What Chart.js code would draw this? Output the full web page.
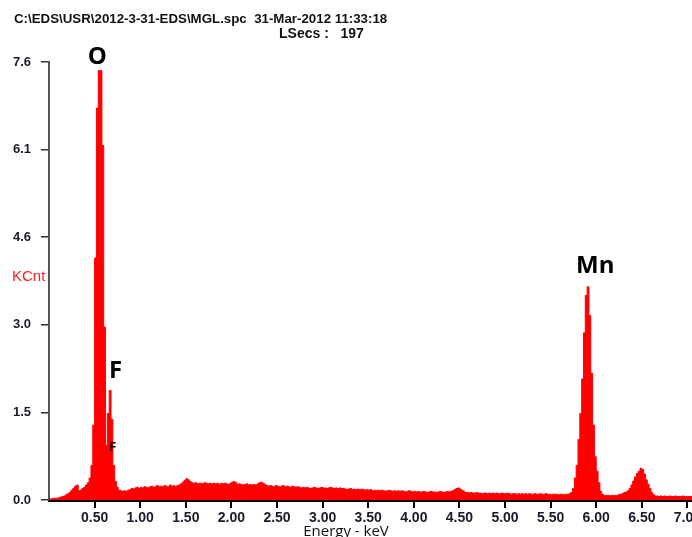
<!DOCTYPE html>
<html>
<head>
    <title>EDS Spectrum</title>
    <script src="https://cdn.jsdelivr.net/npm/chart.js"></script>
    <style>
        body { margin: 0; background: #fff; }
        #wrap { width: 692px; height: 537px; }
    </style>
</head>
<body>
    <div id="wrap"><canvas id="spectrum" width="692" height="537"></canvas></div>

    <script>
        // channel width in keV
        const channelWidth = 0.02;

        // KCnt per channel, starting at 0 keV
        const counts = [
            0.02, 0.03, 0.03, 0.03, 0.04, 0.05, 0.06, 0.07, 0.09, 0.11,
            0.13, 0.17, 0.2, 0.24, 0.26, 0.16, 0.17, 0.2, 0.22, 0.26,
            0.3, 0.38, 0.6, 1.3, 4.2, 6.8, 7.45, 7.45, 6.15, 3.0,
            0.95, 1.5, 1.9, 1.4, 0.6, 0.32, 0.22, 0.17, 0.16, 0.15,
            0.16, 0.15, 0.17, 0.18, 0.2, 0.19, 0.21, 0.22, 0.2, 0.22,
            0.21, 0.23, 0.22, 0.21, 0.23, 0.24, 0.22, 0.23, 0.25, 0.23,
            0.24, 0.23, 0.25, 0.24, 0.23, 0.26, 0.24, 0.25, 0.23, 0.25,
            0.26, 0.28, 0.31, 0.34, 0.37, 0.35, 0.32, 0.3, 0.29, 0.3,
            0.28, 0.29, 0.29, 0.28, 0.3, 0.29, 0.28, 0.29, 0.28, 0.29,
            0.28, 0.29, 0.27, 0.29, 0.28, 0.29, 0.28, 0.27, 0.29, 0.31,
            0.32, 0.3, 0.27, 0.28, 0.27, 0.26, 0.27, 0.28, 0.26, 0.27,
            0.26, 0.27, 0.26, 0.28, 0.3, 0.31, 0.29, 0.27, 0.25, 0.24,
            0.25, 0.24, 0.23, 0.25, 0.24, 0.23, 0.24, 0.25, 0.23, 0.24,
            0.23, 0.22, 0.24, 0.23, 0.22, 0.23, 0.22, 0.21, 0.22, 0.21,
            0.22, 0.21, 0.2, 0.21, 0.22, 0.21, 0.2, 0.21, 0.22, 0.21,
            0.21, 0.2, 0.21, 0.22, 0.21, 0.2, 0.21, 0.2, 0.21, 0.2,
            0.2, 0.19, 0.18, 0.19, 0.2, 0.18, 0.19, 0.18, 0.19, 0.18,
            0.19, 0.18, 0.17, 0.18, 0.17, 0.18, 0.16, 0.17, 0.16, 0.17,
            0.16, 0.17, 0.16, 0.15, 0.16, 0.17, 0.16, 0.15, 0.16, 0.15,
            0.16, 0.15, 0.16, 0.15, 0.14, 0.15, 0.16, 0.15, 0.14, 0.15,
            0.14, 0.15, 0.14, 0.14, 0.15, 0.14, 0.13, 0.14, 0.15, 0.14,
            0.14, 0.13, 0.14, 0.15, 0.14, 0.13, 0.14, 0.15, 0.14, 0.15,
            0.16, 0.18, 0.2, 0.21, 0.19, 0.17, 0.15, 0.13, 0.13, 0.12,
            0.13, 0.12, 0.12, 0.13, 0.12, 0.12, 0.11, 0.12, 0.12, 0.11,
            0.12, 0.11, 0.12, 0.11, 0.12, 0.11, 0.11, 0.12, 0.11, 0.11,
            0.12, 0.11, 0.1, 0.11, 0.11, 0.1, 0.11, 0.1, 0.11, 0.1,
            0.11, 0.1, 0.11, 0.1, 0.1, 0.11, 0.1, 0.1, 0.11, 0.1,
            0.1, 0.11, 0.1, 0.1, 0.09, 0.1, 0.1, 0.1, 0.09, 0.1,
            0.1, 0.09, 0.1, 0.1, 0.11, 0.13, 0.2, 0.38, 0.6, 1.05,
            1.5, 2.1, 2.9, 3.55, 3.7, 3.2, 2.2, 1.3, 0.75, 0.5,
            0.3, 0.15, 0.1, 0.08, 0.08, 0.08, 0.07, 0.08, 0.08, 0.08,
            0.08, 0.09, 0.1, 0.11, 0.13, 0.14, 0.16, 0.2, 0.26, 0.33,
            0.4, 0.46, 0.5, 0.55, 0.53, 0.45, 0.35, 0.27, 0.2, 0.13,
            0.09, 0.07, 0.07, 0.06, 0.07, 0.06, 0.07, 0.06, 0.06, 0.07,
            0.06, 0.06, 0.07, 0.06, 0.06, 0.06, 0.07, 0.06, 0.06, 0.06,
            0.06, 0.06, 0.06, 0.06
        ];

        const xTicks = [0.5, 1.0, 1.5, 2.0, 2.5, 3.0, 3.5, 4.0, 4.5, 5.0, 5.5, 6.0, 6.5, 7.0];
        const yTicks = [0, 1.52, 3.04, 4.56, 6.08, 7.6];

        // element labels: [text, keV, KCnt, size]
        const peakLabels = [
            ['O', 0.53, 7.68, 24],
            ['F', 0.73, 2.24, 24],
            ['F', 0.70, 0.92, 13],
            ['Mn', 5.99, 4.06, 24]
        ];

        const headerLine1 = 'C:\\EDS\\USR\\2012-3-31-EDS\\MGL.spc  31-Mar-2012 11:33:18';
        const headerLine2 = 'LSecs :   197';

        // each channel value is held from its lower edge to the next channel
        const points = counts.map((v, i) => ({ x: (i + 1) * channelWidth, y: v }));
        points.unshift({ x: 0, y: counts[0] });

        const textPlugin = {
            id: 'texts',
            afterDraw(chart) {
                const c = chart.ctx;
                const xs = chart.scales.x, ys = chart.scales.y;
                c.save();
                c.textBaseline = 'middle';
                c.fillStyle = '#111';
                c.textAlign = 'left';
                c.font = 'bold 13.3px "Liberation Sans", Arial, sans-serif';
                c.fillText(headerLine1, 14, 19);
                c.font = 'bold 14px "Liberation Sans", Arial, sans-serif';
                c.fillText(headerLine2, 279, 34);

                c.textAlign = 'center';
                peakLabels.forEach(p => {
                    c.font = 'bold ' + p[3] + 'px "Open Sans", sans-serif';
                    c.fillStyle = '#000';
                    c.fillText(p[0], xs.getPixelForValue(p[1]), ys.getPixelForValue(p[2]));
                });

                c.fillStyle = '#ff2020';
                c.font = '15px "Liberation Sans", Arial, sans-serif';
                c.textAlign = 'left';
                c.fillText('KCnt', 12, 277);

                c.fillStyle = '#111';
                c.font = '15px "Open Sans", sans-serif';
                c.textAlign = 'center';
                c.fillText('Energy - keV', 346, 532);
                c.restore();
            }
        };

        new Chart(document.getElementById('spectrum'), {
            type: 'line',
            data: {
                datasets: [{
                    data: points,
                    stepped: 'before',
                    fill: 'origin',
                    backgroundColor: '#ff0000',
                    borderColor: '#ff0000',
                    borderWidth: 1,
                    pointRadius: 0
                }]
            },
            options: {
                responsive: false,
                animation: false,
                layout: { padding: { top: 62, left: 0, right: 0, bottom: 0 } },
                plugins: { legend: { display: false }, tooltip: { enabled: false } },
                scales: {
                    x: {
                        type: 'linear',
                        min: 0,
                        max: 7.05,
                        afterBuildTicks: s => { s.ticks = xTicks.map(v => ({ value: v })); },
                        afterFit: s => { s.height = 37; s.paddingLeft = 0; s.paddingRight = 0; },
                        border: { color: '#000', width: 3 },
                        grid: { drawOnChartArea: false, tickLength: 8, color: '#000', lineWidth: 2 },
                        ticks: {
                            maxRotation: 0,
                            autoSkip: false,
                            padding: 2,
                            color: '#1a1a28',
                            font: { family: '"Liberation Sans", Arial, sans-serif', size: 14, weight: 'bold' },
                            callback: v => v.toFixed(2)
                        }
                    },
                    y: {
                        min: 0,
                        max: 7.6,
                        afterBuildTicks: s => { s.ticks = yTicks.map(v => ({ value: v })); },
                        afterFit: s => { s.width = 49; s.paddingTop = 0; s.paddingBottom = 0; },
                        border: { color: '#555', width: 2 },
                        grid: { drawOnChartArea: false, tickLength: 8, color: '#333', lineWidth: 1.5 },
                        ticks: {
                            padding: 10,
                            color: '#1a1a28',
                            font: { family: '"Liberation Sans", Arial, sans-serif', size: 13, weight: 'bold' },
                            callback: v => v.toFixed(1)
                        }
                    }
                }
            },
            plugins: [textPlugin]
        });
    </script>
</body>
</html>
